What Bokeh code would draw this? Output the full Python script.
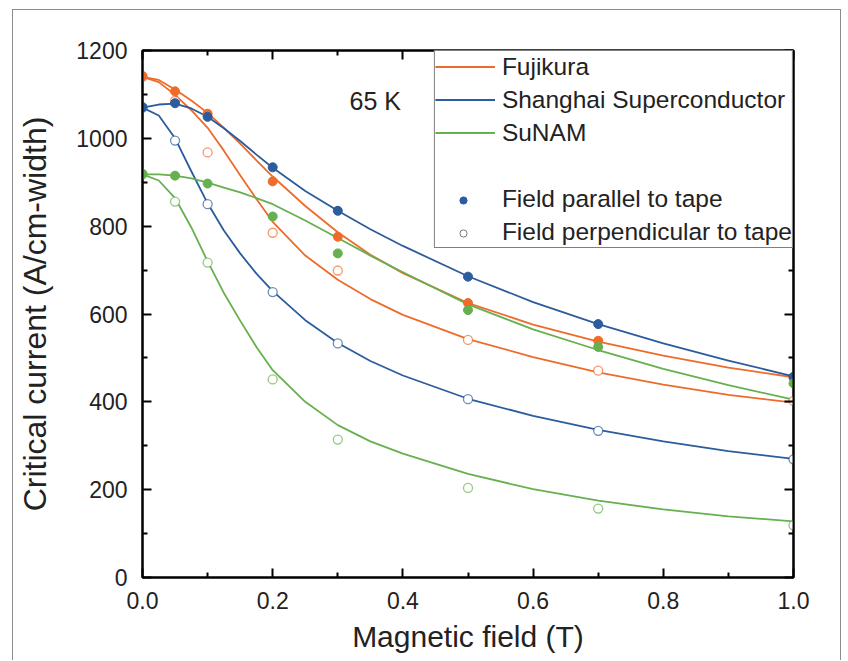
from bokeh.plotting import figure
from bokeh.models import (LinearAxis, Legend, LegendItem, Label, ColumnDataSource,
                          FixedTicker, NumeralTickFormatter, Range1d)
from bokeh.embed import file_html
from bokeh.resources import INLINE

# ---- measured data ----
x_meas = [0.0, 0.05, 0.1, 0.2, 0.3, 0.5, 0.7, 1.0]
fuj_par = [1142, 1107, 1056, 902, 776, 625, 539, 455]
fuj_perp = [1140, 1085, 968, 785, 699, 541, 471, 402]
sh_par = [1071, 1080, 1049, 934, 835, 685, 577, 457]
sh_perp = [1070, 995, 850, 650, 533, 406, 334, 269]
su_par = [919, 915, 897, 822, 738, 609, 525, 442]
su_perp = [918, 856, 717, 451, 314, 204, 157, 119]

# ---- fitted curves ----
x_fit = [0.0, 0.025, 0.05, 0.075, 0.1, 0.125, 0.15, 0.175, 0.2, 0.25, 0.3, 0.35, 0.4,
         0.5, 0.6, 0.7, 0.8, 0.9, 1.0]
fit_fuj_par = [1140, 1133, 1111, 1086, 1058, 1024, 988, 950, 913, 846, 786, 735, 693,
               625, 576, 537, 505, 478, 456]
fit_fuj_perp = [1140, 1128, 1099, 1064, 1024, 972, 916, 862, 810, 733, 678, 634, 598,
                543, 502, 467, 439, 416, 398]
fit_sh_par = [1070, 1077, 1079, 1068, 1049, 1023, 994, 963, 933, 880, 835, 793, 755,
              686, 627, 577, 533, 494, 458]
fit_sh_perp = [1070, 1052, 1000, 925, 852, 790, 738, 692, 652, 586, 534, 493, 460,
               407, 368, 336, 310, 288, 270]
fit_su_par = [918, 918, 915, 909, 899, 888, 877, 864, 850, 813, 773, 733, 695,
              622, 565, 518, 475, 438, 405]
fit_su_perp = [918, 904, 864, 797, 720, 648, 585, 525, 472, 400, 347, 310, 282,
               236, 201, 175, 155, 139, 128]

series_names = ["Fujikura", "Shanghai Superconductor", "SuNAM"]
marker_names = ["Field parallel to tape", "Field perpendicular to tape"]
x_ticks = [0.0, 0.2, 0.4, 0.6, 0.8, 1.0]
x_minor = [0.1, 0.3, 0.5, 0.7, 0.9]
y_ticks = [0, 200, 400, 600, 800, 1000, 1200]
y_minor = [100, 300, 500, 700, 900, 1100]

ORANGE = "#ef6b2b"
BLUE = "#2b5c9d"
GREEN = "#66b04f"
FONT = "Liberation Sans"
NAN = float("nan")

p = figure(width=829, height=651, output_backend="svg", toolbar_location=None,
           x_range=Range1d(0, 1.0), y_range=Range1d(0, 1200),
           min_border_left=129, min_border_right=49, min_border_top=40, min_border_bottom=84,
           styles={"margin-left": "12px", "margin-top": "9px",
                   "border-left": "1px solid #8c8c8c", "border-top": "1px solid #8c8c8c",
                   "border-right": "1px solid #8c8c8c"})
p.grid.visible = False
p.outline_line_color = "black"
p.outline_line_width = 2

def style_axis(ax, labels=True):
    ax.axis_line_width = 2
    ax.major_tick_line_width = 2
    ax.minor_tick_line_width = 2
    ax.major_tick_in = 9
    ax.major_tick_out = 0
    ax.minor_tick_in = 5
    ax.minor_tick_out = 0
    ax.major_label_text_font = FONT
    ax.major_label_text_font_size = "23px"
    ax.major_label_text_color = "#222222"
    ax.axis_label_text_font = FONT
    ax.axis_label_text_font_style = "normal"
    ax.axis_label_text_color = "#222222"
    if not labels:
        ax.major_label_text_font_size = "0px"
        ax.major_label_text_alpha = 0

xa = p.xaxis[0]
xa.ticker = FixedTicker(ticks=x_ticks, minor_ticks=x_minor)
xa.formatter = NumeralTickFormatter(format="0.0")
style_axis(xa)
xa.axis_label = "Magnetic field (T)"
xa.axis_label_text_font_size = "30px"
xa.major_label_standoff = 14
xa.axis_label_standoff = 8

ya = p.yaxis[0]
ya.ticker = FixedTicker(ticks=y_ticks, minor_ticks=y_minor)
style_axis(ya)
ya.axis_label = "Critical current (A/cm-width)"
ya.axis_label_text_font_size = "32px"
ya.major_label_standoff = 15
ya.axis_label_standoff = 20

top = LinearAxis(ticker=FixedTicker(ticks=x_ticks, minor_ticks=x_minor))
style_axis(top, labels=False)
p.add_layout(top, "above")
right = LinearAxis(ticker=FixedTicker(ticks=y_ticks, minor_ticks=y_minor))
style_axis(right, labels=False)
p.add_layout(right, "right")

colors = [ORANGE, BLUE, GREEN]
fits_par = [fit_fuj_par, fit_sh_par, fit_su_par]
fits_perp = [fit_fuj_perp, fit_sh_perp, fit_su_perp]
pts_par = [fuj_par, sh_par, su_par]
pts_perp = [fuj_perp, sh_perp, su_perp]

line_renderers = []
for c, fpar, fperp in zip(colors, fits_par, fits_perp):
    r = p.line(x_fit, fpar, line_color=c, line_width=1.8, line_join="round")
    p.line(x_fit, fperp, line_color=c, line_width=1.8, line_join="round")
    line_renderers.append(r)

for c, ypar, yperp in zip(colors, pts_par, pts_perp):
    p.scatter(x_meas, yperp, size=9, marker="circle", fill_color="white",
              line_color=c, line_alpha=0.7, line_width=1.3)
    p.scatter(x_meas, ypar, size=9, marker="circle", fill_color=c, line_color=c)

p.add_layout(Label(x=0.318, y=1084, text="65 K", text_font=FONT, text_font_size="25px",
                   text_color="#222222", text_baseline="middle"))

# legend-only renderers (NaN points: nothing drawn in the plot)
legend_src = ColumnDataSource(data=dict(x=[NAN], y=[NAN]))
blank = p.line("x", "y", source=legend_src, line_alpha=0)
par_r = p.scatter("x", "y", source=legend_src, size=7, marker="circle",
                  fill_color=BLUE, line_color=BLUE)
perp_r = p.scatter("x", "y", source=legend_src, size=7, marker="circle",
                   fill_color="white", line_color="#777777", line_width=1)

items = [LegendItem(label=n, renderers=[r]) for n, r in zip(series_names, line_renderers)]
items += [LegendItem(label=" ", renderers=[blank])]
items += [LegendItem(label=n, renderers=[blank]) for n in marker_names]
legend = Legend(items=items, location="top_right", margin=0, padding=0,
                glyph_width=60, glyph_height=31, label_standoff=7, spacing=2,
                label_text_font=FONT, label_text_font_size="24.5px", label_text_color="#222222",
                border_line_color="black", border_line_width=1.5,
                background_fill_alpha=1)
p.add_layout(legend)

# small marker symbols for the last two legend rows
legend_marks = Legend(items=[LegendItem(label=" ", renderers=[par_r]),
                             LegendItem(label=" ", renderers=[perp_r])],
                      location=(291, 335), margin=0, padding=0,
                      glyph_width=60, glyph_height=18, label_standoff=0, spacing=15,
                      label_text_font_size="1px",
                      border_line_alpha=0, background_fill_alpha=0)
p.add_layout(legend_marks)

open("out.html", "w").write(file_html(p, INLINE))
